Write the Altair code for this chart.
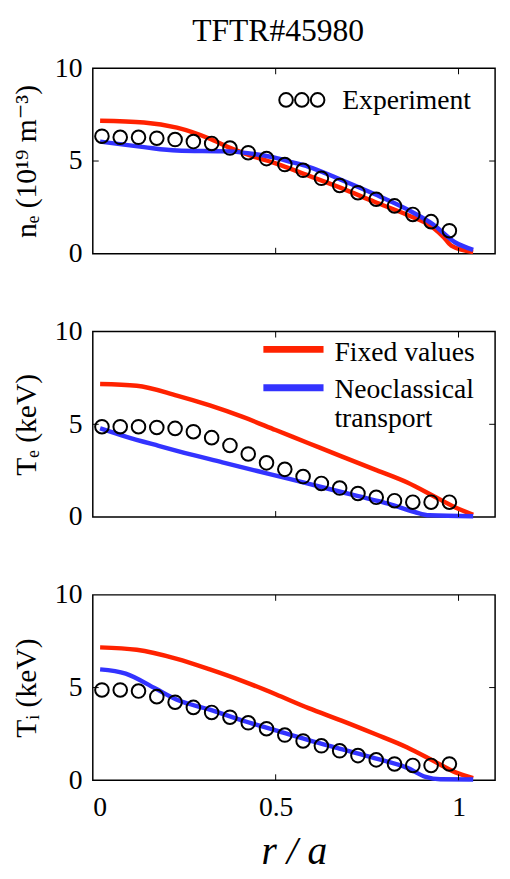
import altair as alt
import pandas as pd

# ---------------- data ----------------
exp_x = [0.025, 0.075, 0.125, 0.175, 0.225, 0.275, 0.325, 0.375, 0.425, 0.475,
         0.525, 0.575, 0.625, 0.675, 0.725, 0.775, 0.825, 0.875, 0.925, 0.975]

ne_exp = [6.34, 6.28, 6.28, 6.23, 6.16, 6.05, 5.95, 5.70, 5.45, 5.13,
          4.81, 4.50, 4.07, 3.68, 3.29, 2.94, 2.58, 2.12, 1.73, 1.24]
te_exp = [4.87, 4.87, 4.87, 4.83, 4.78, 4.60, 4.28, 3.86, 3.40, 2.92,
          2.57, 2.18, 1.81, 1.56, 1.27, 1.06, 0.88, 0.80, 0.80, 0.80]
ti_exp = [4.87, 4.87, 4.81, 4.51, 4.21, 3.93, 3.66, 3.40, 3.10, 2.78,
          2.44, 2.12, 1.86, 1.59, 1.33, 1.10, 0.88, 0.80, 0.80, 0.88]

ne_fix_x = [0.02, 0.14, 0.23, 0.32, 0.37, 0.43, 0.50, 0.59, 0.68, 0.77, 0.86, 0.93, 0.96, 0.98, 1.04]
ne_fix_y = [7.17, 7.08, 6.80, 6.20, 5.75, 5.30, 4.87, 4.21, 3.54, 2.80, 2.09, 1.42, 0.88, 0.44, 0.09]
ne_neo_x = [0.02, 0.14, 0.23, 0.37, 0.45, 0.50, 0.54, 0.59, 0.68, 0.77, 0.86, 0.93, 0.99, 1.04]
ne_neo_y = [6.05, 5.75, 5.57, 5.52, 5.35, 5.17, 4.96, 4.69, 3.98, 3.22, 2.39, 1.59, 0.62, 0.21]

te_fix_x = [0.02, 0.12, 0.23, 0.32, 0.41, 0.50, 0.59, 0.68, 0.77, 0.86, 0.93, 0.99, 1.04]
te_fix_y = [7.17, 7.08, 6.55, 6.02, 5.40, 4.69, 3.98, 3.27, 2.57, 1.86, 1.15, 0.53, 0.12]
te_neo_x = [0.02, 0.09, 0.18, 0.27, 0.36, 0.45, 0.54, 0.63, 0.72, 0.81, 0.88, 0.92, 1.04]
te_neo_y = [4.78, 4.34, 3.84, 3.36, 2.92, 2.48, 2.04, 1.59, 1.15, 0.71, 0.27, 0.09, 0.04]

ti_fix_x = [0.02, 0.12, 0.23, 0.32, 0.41, 0.50, 0.59, 0.68, 0.77, 0.86, 0.93, 0.99, 1.04]
ti_fix_y = [7.17, 7.04, 6.55, 5.98, 5.35, 4.64, 3.89, 3.22, 2.51, 1.77, 1.06, 0.44, 0.12]
ti_neo_x = [0.02, 0.09, 0.17, 0.23, 0.32, 0.41, 0.50, 0.59, 0.68, 0.77, 0.86, 0.91, 0.95, 1.04]
ti_neo_y = [5.98, 5.75, 4.96, 4.34, 3.81, 3.22, 2.69, 2.16, 1.68, 1.20, 0.67, 0.18, 0.05, 0.04]

x_ticks = [0.5, 1.0]
y_ticks = [5]

title_text = "TFTR#45980"
y_titles = ["nₑ  (10¹⁹ m⁻³)", "Tₑ  (keV)", "Tᵢ  (keV)"]
x_title = "r / a"

# ---------------- style ----------------
W, H = 408, 188
FONT = "Liberation Serif, Times New Roman, DejaVu Serif, serif"
RED, BLUE = "#ff2200", "#3333ff"
PT = 190

xs = alt.Scale(domain=[0, 1.1], nice=False)
ys = alt.Scale(domain=[0, 10], nice=False)


def panel(exp_y, fx, fy, nx, ny, ytitle, bottom, legend):
    ax_x = (alt.Axis(values=[0, 0.5, 1], labelExpr="datum.value == 0 ? '0' : datum.value == 1 ? '1' : '0.5'",
                     title=x_title, titleFont=FONT, titleFontSize=40, titleFontStyle="italic",
                     titleFontWeight="normal", titlePadding=10, labelPadding=14)
            if bottom else alt.Axis(labels=False, title=None))
    ax_y = alt.Axis(values=[0, 5, 10], title=ytitle, titleFont=FONT, titleFontSize=30,
                    titleFontWeight="normal", titlePadding=13, labelPadding=11)

    fix = pd.DataFrame({"x": fx, "y": fy})
    neo = pd.DataFrame({"x": nx, "y": ny})
    exp = pd.DataFrame({"x": exp_x, "y": exp_y})

    l_fix = alt.Chart(fix).mark_line(color=RED, strokeWidth=4.5, interpolate="monotone").encode(
        x=alt.X("x:Q", scale=xs, axis=ax_x), y=alt.Y("y:Q", scale=ys, axis=ax_y))
    l_neo = alt.Chart(neo).mark_line(color=BLUE, strokeWidth=4.5, interpolate="monotone").encode(
        x=alt.X("x:Q", scale=xs), y=alt.Y("y:Q", scale=ys))
    pts = alt.Chart(exp).mark_point(shape="circle", size=PT, color="black", strokeWidth=2,
                                    filled=False, opacity=1).encode(
        x=alt.X("x:Q", scale=xs), y=alt.Y("y:Q", scale=ys))

    tx = pd.DataFrame({"t": x_ticks})
    ty = pd.DataFrame({"t": y_ticks})
    tick_b = alt.Chart(tx).mark_rule(color="black", strokeWidth=1).encode(
        x=alt.X("t:Q", scale=xs), y=alt.value(H), y2=alt.value(H - 6))
    tick_t = alt.Chart(tx).mark_rule(color="black", strokeWidth=1).encode(
        x=alt.X("t:Q", scale=xs), y=alt.value(0), y2=alt.value(6))
    tick_l = alt.Chart(ty).mark_rule(color="black", strokeWidth=1).encode(
        y=alt.Y("t:Q", scale=ys), x=alt.value(0), x2=alt.value(6))
    tick_r = alt.Chart(ty).mark_rule(color="black", strokeWidth=1).encode(
        y=alt.Y("t:Q", scale=ys), x=alt.value(W), x2=alt.value(W - 6))

    layers = [l_fix, l_neo, pts, tick_b, tick_t, tick_l, tick_r]
    one = pd.DataFrame({"a": [0]})
    if legend == "exp":
        for cx in (196, 212, 228):
            layers.append(alt.Chart(one).mark_point(shape="circle", size=PT, color="black",
                                                    strokeWidth=2, filled=False, opacity=1).encode(
                x=alt.value(cx), y=alt.value(32)))
        layers.append(alt.Chart(one).mark_text(text="Experiment", font=FONT, fontSize=28, align="left",
                                               baseline="alphabetic", color="black").encode(
            x=alt.value(253), y=alt.value(41)))
    elif legend == "models":
        layers.append(alt.Chart(one).mark_rule(color=RED, strokeWidth=7).encode(
            x=alt.value(173), x2=alt.value(234), y=alt.value(18)))
        layers.append(alt.Chart(one).mark_rule(color=BLUE, strokeWidth=7).encode(
            x=alt.value(173), x2=alt.value(234), y=alt.value(57)))
        for txt, yy in (("Fixed values", 30), ("Neoclassical", 67), ("transport", 97)):
            layers.append(alt.Chart(one).mark_text(text=txt, font=FONT, fontSize=28, align="left",
                                                   baseline="alphabetic", color="black").encode(
                x=alt.value(245), y=alt.value(yy)))
    return alt.layer(*layers).properties(width=W, height=H)


p1 = panel(ne_exp, ne_fix_x, ne_fix_y, ne_neo_x, ne_neo_y, y_titles[0], False, "exp").properties(
    title=alt.TitleParams(title_text, font=FONT, fontSize=32, fontWeight="normal", anchor="middle",
                          frame="group", dx=-16, offset=7, color="black"))
p2 = panel(te_exp, te_fix_x, te_fix_y, te_neo_x, te_neo_y, y_titles[1], False, "models")
p3 = panel(ti_exp, ti_fix_x, ti_fix_y, ti_neo_x, ti_neo_y, y_titles[2], True, None)

chart = alt.vconcat(p1, p2, p3, spacing=49).properties(
    padding={"left": 3, "top": 0, "right": 5, "bottom": 5}
).configure_view(stroke="black", strokeWidth=1.5).configure_axis(
    grid=False, domain=False, ticks=False, labelFont=FONT, labelFontSize=28,
    labelColor="black", titleColor="black"
)

chart.save("out.html", embed_options={"renderer": "svg", "actions": False})
